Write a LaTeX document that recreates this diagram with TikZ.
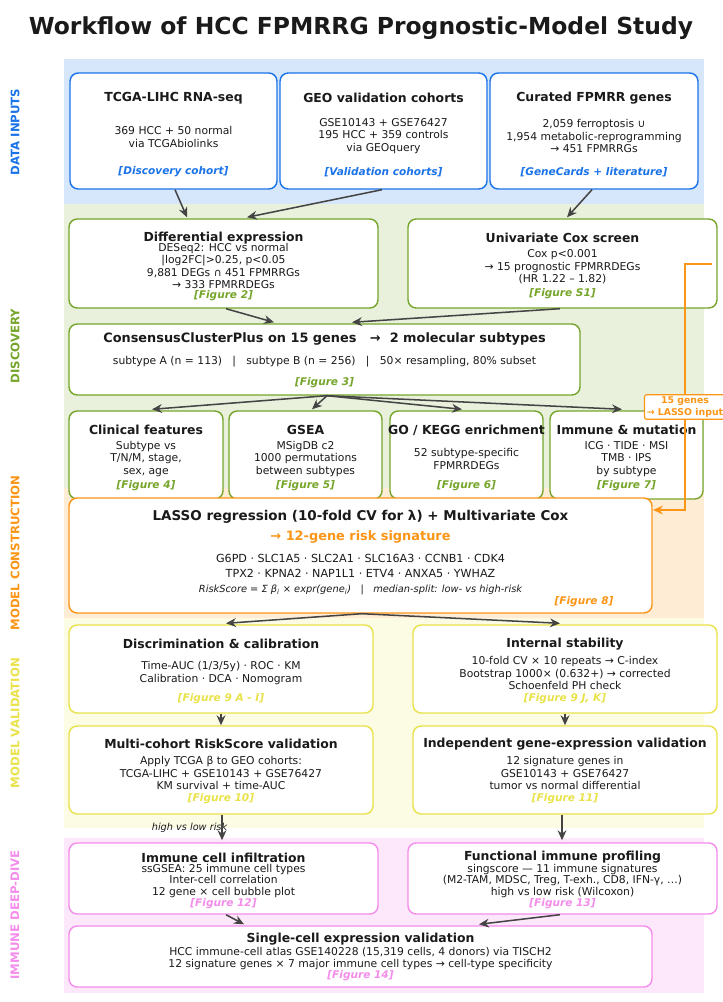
\documentclass[tikz,border=0pt]{standalone}
\usepackage{fontspec}
\setmainfont{DejaVu Sans}
\usepackage{tikz}
\usetikzlibrary{arrows.meta,calc}
\definecolor{blue1}{HTML}{1A73E8}
\definecolor{green1}{HTML}{76A52B}
\definecolor{orange1}{HTML}{FB9516}
\definecolor{yellow1}{HTML}{E9E24A}
\definecolor{pink1}{HTML}{F48CEB}
\definecolor{gray1}{HTML}{444444}
\definecolor{ink1}{HTML}{1A1A1A}

\begin{document}
\begin{tikzpicture}[
    x=0.03cm, y=-0.03cm,
    box/.style 2 args={draw, rounded corners=7pt, line width=1.2pt, fill=white,
                  minimum width=#1*0.03cm, minimum height=#2*0.03cm, inner sep=0pt},
    head/.style={font=\bfseries\fontsize{10.6}{12}\selectfont, text=ink1, inner sep=0pt},
    body/.style={font=\fontsize{9.2}{10.6}\selectfont, text=ink1, align=center, inner sep=0pt},
    fig/.style={font=\bfseries\itshape\fontsize{9}{10}\selectfont, inner sep=0pt},
    phase/.style={rotate=90, font=\bfseries\fontsize{10}{12}\selectfont, inner sep=0pt},
    flow/.style={-{Stealth[length=8.5pt,width=7.5pt]}, line width=1.3pt, draw=gray1},
    feed/.style={-{Stealth[length=8.5pt,width=7.5pt]}, line width=1.6pt, draw=orange1},
]
\useasboundingbox (0,0) rectangle (722,1002);

\node[font=\bfseries\fontsize{20}{24}\selectfont, text=ink1] (title) at (361,28)
    {Workflow of HCC FPMRRG Prognostic-Model Study};

% phase bands
\fill[blue1!18]   (64,59)  rectangle (704,204);
\fill[green1!16]  (64,204) rectangle (704,488);
\fill[orange1!18] (64,488) rectangle (704,618);
\fill[yellow1!15] (64,618) rectangle (704,828);
\fill[pink1!20]   (64,838) rectangle (704,993);

\node[phase, text=blue1]   (ph-data) at (15,132) {DATA INPUTS};
\node[phase, text=green1]  (ph-disc) at (15,346) {DISCOVERY};
\node[phase, text=orange1] (ph-mod)  at (15,553) {MODEL CONSTRUCTION};
\node[phase, text=yellow1] (ph-val)  at (15,723) {MODEL VALIDATION};
\node[phase, text=pink1]   (ph-imm)  at (15,915) {IMMUNE DEEP-DIVE};

% data inputs
\node[box={207}{116}, draw=blue1] (tcga) at (173.5,131) {};
\node[head] (tcga-h) at (173.5,98) {TCGA-LIHC RNA-seq};
\node[body] (tcga-b) at (173.5,137) {369 HCC + 50 normal\\via TCGAbiolinks};
\node[fig, text=blue1] (tcga-f) at (173.5,172) {[Discovery cohort]};

\node[box={207}{116}, draw=blue1] (geo) at (383.5,131) {};
\node[head] (geo-h) at (383.5,98) {GEO validation cohorts};
\node[body] (geo-b) at (383.5,136) {GSE10143 + GSE76427\\195 HCC + 359 controls\\via GEOquery};
\node[fig, text=blue1] (geo-f) at (383.5,172) {[Validation cohorts]};

\node[box={208}{116}, draw=blue1] (fpmrr) at (594,131) {};
\node[head] (fpmrr-h) at (594,98) {Curated FPMRR genes};
\node[body] (fpmrr-b) at (594,136) {2,059 ferroptosis ∪\\1,954 metabolic-reprogramming\\→ 451 FPMRRGs};
\node[fig, text=blue1] (fpmrr-f) at (594,172) {[GeneCards + literature]};

% discovery
\node[box={309}{89}, draw=green1] (dge) at (223.5,263.5) {};
\node[head] (dge-h) at (223.5,238) {Differential expression};
\node[body] (dge-b) at (223.5,266) {DESeq2: HCC vs normal\\|log2FC|>0.25, p<0.05\\9,881 DEGs ∩ 451 FPMRRGs\\→ 333 FPMRRDEGs};
\node[fig, text=green1] (dge-f) at (223.5,296) {[Figure 2]};

\node[box={309}{89}, draw=green1] (cox) at (562.5,263.5) {};
\node[head] (cox-h) at (562.5,238) {Univariate Cox screen};
\node[body] (cox-b) at (562.5,267) {Cox p<0.001\\→ 15 prognostic FPMRRDEGs\\(HR 1.22 – 1.82)};
\node[fig, text=green1] (cox-f) at (562.5,294) {[Figure S1]};

\node[box={511}{71}, draw=green1] (ccp) at (324.5,359.5) {};
\node[head, font=\bfseries\fontsize{11}{13}\selectfont] (ccp-h) at (324.5,339)
    {ConsensusClusterPlus on 15 genes \ \ →\ \ 2 molecular subtypes};
\node[body] (ccp-b) at (324.5,362) {subtype A (n = 113) \ \ |\ \ \ subtype B (n = 256) \ \ |\ \ \ 50× resampling, 80\% subset};
\node[fig, text=green1] (ccp-f) at (324.5,383) {[Figure 3]};

\node[box={154}{88}, draw=green1] (clin) at (146,455) {};
\node[head] (clin-h) at (146,430) {Clinical features};
\node[body] (clin-b) at (146,459) {Subtype vs\\T/N/M, stage,\\sex, age};
\node[fig, text=green1] (clin-f) at (146,486) {[Figure 4]};

\node[box={153}{88}, draw=green1] (gsea) at (305.5,455) {};
\node[head] (gsea-h) at (305.5,430) {GSEA};
\node[body] (gsea-b) at (305.5,459) {MSigDB c2\\1000 permutations\\between subtypes};
\node[fig, text=green1] (gsea-f) at (305.5,486) {[Figure 5]};

\node[box={153}{88}, draw=green1] (gokegg) at (466.5,455) {};
\node[head] (gokegg-h) at (466.5,430) {GO / KEGG enrichment};
\node[body] (gokegg-b) at (466.5,459) {52 subtype-specific\\FPMRRDEGs};
\node[fig, text=green1] (gokegg-f) at (466.5,486) {[Figure 6]};

\node[box={153}{88}, draw=green1] (immut) at (626.5,455) {};
\node[head] (immut-h) at (626.5,430) {Immune \& mutation};
\node[body] (immut-b) at (626.5,459) {ICG · TIDE · MSI\\TMB · IPS\\by subtype};
\node[fig, text=green1] (immut-f) at (626.5,486) {[Figure 7]};

% model construction
\node[box={583}{115}, draw=orange1] (lasso) at (360.5,555.5) {};
\node[head, font=\bfseries\fontsize{11.5}{13}\selectfont] (lasso-h) at (360.5,517)
    {LASSO regression (10-fold CV for λ) + Multivariate Cox};
\node[head, text=orange1, font=\bfseries\fontsize{11}{13}\selectfont] (lasso-s) at (360.5,537)
    {→ 12-gene risk signature};
\node[body, font=\fontsize{9.5}{12.8}\selectfont] (lasso-b) at (360.5,565.5)
    {G6PD · SLC1A5 · SLC2A1 · SLC16A3 · CCNB1 · CDK4\\TPX2 · KPNA2 · NAP1L1 · ETV4 · ANXA5 · YWHAZ};
\node[body, font=\itshape\fontsize{8.4}{10}\selectfont] (lasso-e) at (360.5,590)
    {RiskScore = Σ β\textsubscript{i} × expr(gene\textsubscript{i}) \ \ |\ \ \ median-split: low- vs high-risk};
\node[fig, text=orange1] (lasso-f) at (584,602) {[Figure 8]};

% model validation
\node[box={304}{88}, draw=yellow1] (disc) at (221,669) {};
\node[head] (disc-h) at (221,644) {Discrimination \& calibration};
\node[body] (disc-b) at (221,673) {Time-AUC (1/3/5y) · ROC · KM\\Calibration · DCA · Nomogram};
\node[fig, text=yellow1] (disc-f) at (221,699) {[Figure 9 A - I]};

\node[box={304}{88}, draw=yellow1] (stab) at (565,669) {};
\node[head] (stab-h) at (565,644) {Internal stability};
\node[body] (stab-b) at (565,673) {10-fold CV × 10 repeats → C-index\\Bootstrap 1000× (0.632+) → corrected\\Schoenfeld PH check};
\node[fig, text=yellow1] (stab-f) at (565,699) {[Figure 9 J, K]};

\node[box={304}{88}, draw=yellow1] (multi) at (221,770) {};
\node[head] (multi-h) at (221,744) {Multi-cohort RiskScore validation};
\node[body] (multi-b) at (221,773) {Apply TCGA β to GEO cohorts:\\TCGA-LIHC + GSE10143 + GSE76427\\KM survival + time-AUC};
\node[fig, text=yellow1] (multi-f) at (221,799) {[Figure 10]};

\node[box={304}{88}, draw=yellow1] (indep) at (565,770) {};
\node[head] (indep-h) at (565,744) {Independent gene-expression validation};
\node[body] (indep-b) at (565,773) {12 signature genes in\\GSE10143 + GSE76427\\tumor vs normal differential};
\node[fig, text=yellow1] (indep-f) at (565,799) {[Figure 11]};

\node[font=\itshape\fontsize{8.3}{10}\selectfont, text=ink1] (hvl) at (189.5,828) {high vs low risk};

% immune deep-dive
\node[box={309}{71}, draw=pink1] (infil) at (223.5,878.5) {};
\node[head] (infil-h) at (223.5,857.5) {Immune cell infiltration};
\node[body, font=\fontsize{9.2}{10.2}\selectfont] (infil-b) at (223.5,881)
    {ssGSEA: 25 immune cell types\\Inter-cell correlation\\12 gene × cell bubble plot};
\node[fig, text=pink1] (infil-f) at (223.5,904) {[Figure 12]};

\node[box={309}{71}, draw=pink1] (func) at (562.5,878.5) {};
\node[head] (func-h) at (562.5,857.5) {Functional immune profiling};
\node[body, font=\fontsize{9.2}{10.2}\selectfont] (func-b) at (562.5,881)
    {singscore — 11 immune signatures\\(M2-TAM, MDSC, Treg, T-exh., CD8, IFN-γ, …)\\high vs low risk (Wilcoxon)};
\node[fig, text=pink1] (func-f) at (562.5,904) {[Figure 13]};

\node[box={583}{61}, draw=pink1] (sc) at (360.5,956.5) {};
\node[head] (sc-h) at (360.5,939) {Single-cell expression validation};
\node[body] (sc-b) at (360.5,958.5) {HCC immune-cell atlas GSE140228 (15,319 cells, 4 donors) via TISCH2\\12 signature genes × 7 major immune cell types → cell-type specificity};
\node[fig, text=pink1] (sc-f) at (360.5,976) {[Figure 14]};

% connectors
\draw[flow] ($(tcga.south)+(1.5,0)$)  -- ($(dge.north)+(-36.5,-1)$);
\draw[flow] ($(geo.south)+(-1.5,0)$)  -- ($(dge.north)+(23.5,-1)$);
\draw[flow] ($(fpmrr.south)+(-2,0)$)  -- ($(cox.north)+(4.5,-1)$);
\draw[flow] ($(dge.south)+(2.5,0)$)   -- ($(ccp.north)+(-50.5,-1)$);
\draw[flow] ($(cox.south)+(-2.5,0)$)  -- ($(ccp.north)+(27.5,-1)$);
\draw[flow] ($(ccp.south)+(2.5,0)$)   -- ($(clin.north)+(6,-1)$);
\draw[flow] ($(ccp.south)+(2.5,0)$)   -- ($(gsea.north)+(6.5,-1)$);
\draw[flow] ($(ccp.south)+(2.5,0)$)   -- ($(gokegg.north)+(-4.5,-1)$);
\draw[flow] ($(ccp.south)+(2.5,0)$)   -- ($(immut.north)+(-4.5,-1)$);
\draw[flow] ($(lasso.south)+(1.5,0)$) -- ($(disc.north)+(5,-1)$);
\draw[flow] ($(lasso.south)+(1.5,0)$) -- ($(stab.north)+(-5,-1)$);
\draw[flow] (disc) -- (multi);
\draw[flow] (stab) -- (indep);
\draw[flow] ($(multi.south)+(1,0)$)   -- ($(infil.north)+(-1.5,-2)$);
\draw[flow] ($(indep.south)+(-3,0)$)  -- ($(func.north)+(-0.5,-2)$);
\draw[flow] ($(infil.south)+(2.5,0)$) -- ($(sc.north)+(-116.5,-1)$);
\draw[flow] ($(func.south)+(-2.5,0)$) -- ($(sc.north)+(118.5,-1)$);

% 15 genes fed into LASSO
\node[draw=orange1, fill=white, text=orange1, line width=1pt, rounded corners=2pt,
      inner sep=2pt, align=center, font=\bfseries\fontsize{8}{9.5}\selectfont]
    (genes) at (685,407) {15 genes\\→ LASSO input};
\coordinate (coxtap) at (712,264);
\coordinate (lassotip) at (653,510);
\draw[feed] (coxtap) -| (genes) |- (lassotip);
\end{tikzpicture}
\end{document}
